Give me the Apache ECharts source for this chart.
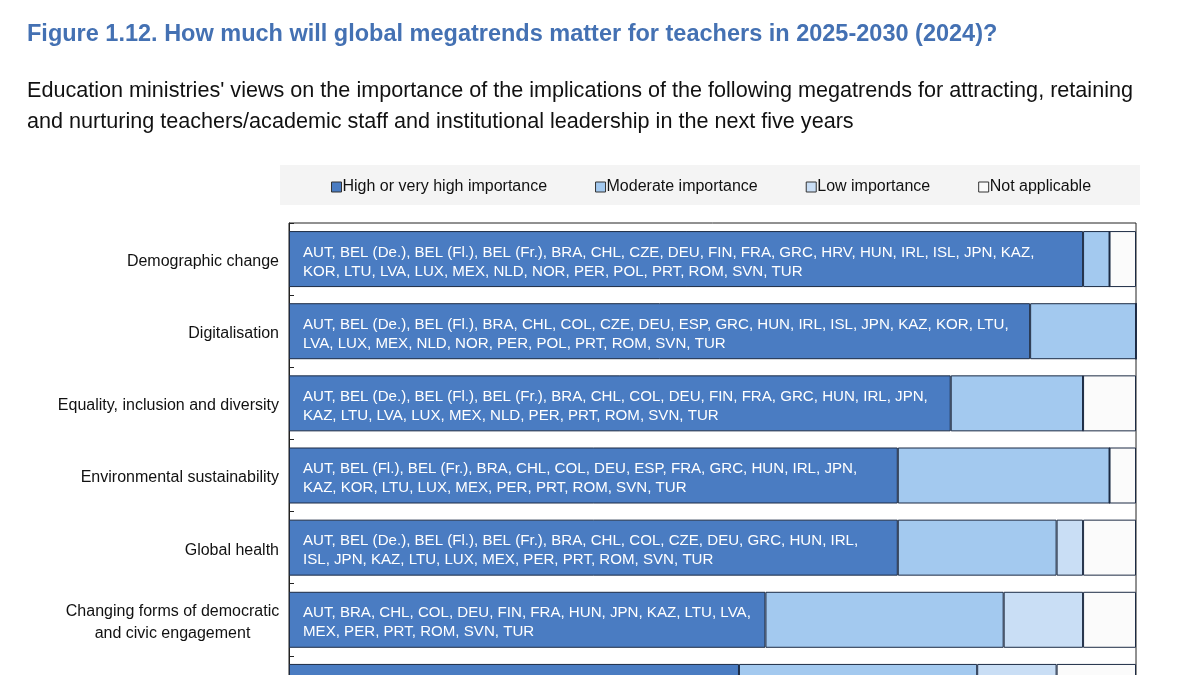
<!DOCTYPE html>
<html>
<head>
<meta charset="utf-8">
<script src="https://cdn.jsdelivr.net/npm/echarts@6/dist/echarts.min.js"></script>
<style>
html,body{margin:0;padding:0;background:#fff;overflow:hidden;}
#chart{width:1200px;height:800px;}
</style>
</head>
<body>
<div id="chart"></div>
<script>
const titleText = 'Figure 1.12. How much will global megatrends matter for teachers in 2025-2030 (2024)?';
const subtitleText = "Education ministries' views on the importance of the implications of the following megatrends for attracting, retaining\nand nurturing teachers/academic staff and institutional leadership in the next five years";
const categories = [
  'Demographic change',
  'Digitalisation',
  'Equality, inclusion and diversity',
  'Environmental sustainability',
  'Global health',
  'Changing forms of democratic\nand civic engagement',
  ''
];
const seriesNames = ['High or very high importance', 'Moderate importance', 'Low importance', 'Not applicable'];
const highValues = [30, 28, 25, 23, 23, 18, 17];
const moderateValues = [1, 4, 5, 8, 6, 9, 9];
const lowValues = [0, 0, 0, 0, 1, 3, 3];
const naValues = [1, 0, 2, 1, 2, 2, 3];
const highCountries = [
  'AUT, BEL (De.), BEL (Fl.), BEL (Fr.), BRA, CHL, CZE, DEU, FIN, FRA, GRC, HRV, HUN, IRL, ISL, JPN, KAZ,\nKOR, LTU, LVA, LUX, MEX, NLD, NOR, PER, POL, PRT, ROM, SVN, TUR',
  'AUT, BEL (De.), BEL (Fl.), BRA, CHL, COL, CZE, DEU, ESP, GRC, HUN, IRL, ISL, JPN, KAZ, KOR, LTU,\nLVA, LUX, MEX, NLD, NOR, PER, POL, PRT, ROM, SVN, TUR',
  'AUT, BEL (De.), BEL (Fl.), BEL (Fr.), BRA, CHL, COL, DEU, FIN, FRA, GRC, HUN, IRL, JPN,\nKAZ, LTU, LVA, LUX, MEX, NLD, PER, PRT, ROM, SVN, TUR',
  'AUT, BEL (Fl.), BEL (Fr.), BRA, CHL, COL, DEU, ESP, FRA, GRC, HUN, IRL, JPN,\nKAZ, KOR, LTU, LUX, MEX, PER, PRT, ROM, SVN, TUR',
  'AUT, BEL (De.), BEL (Fl.), BEL (Fr.), BRA, CHL, COL, CZE, DEU, GRC, HUN, IRL,\nISL, JPN, KAZ, LTU, LUX, MEX, PER, PRT, ROM, SVN, TUR',
  'AUT, BRA, CHL, COL, DEU, FIN, FRA, HUN, JPN, KAZ, LTU, LVA,\nMEX, PER, PRT, ROM, SVN, TUR',
  ''
];
const colors = ['#4a7cc2', '#a3c9ef', '#c9def5', '#fbfbfb'];
const totalResponses = 32;

const FONT = '"Liberation Sans", Arial, sans-serif';
const chart = echarts.init(document.getElementById('chart'));
const border = {borderColor: '#1c2b44', borderWidth: 1};
function mk(i, data, extra) {
  return Object.assign({
    name: seriesNames[i], type: 'bar', stack: 'all', data: data,
    barWidth: 56,
    itemStyle: Object.assign({color: colors[i]}, border),
    emphasis: {disabled: true}
  }, extra || {});
}
chart.setOption({
  animation: false,
  textStyle: {fontFamily: FONT},
  title: [
    {text: titleText, left: 22, top: 18, textStyle: {fontFamily: FONT, fontSize: 23.5, fontWeight: 'bold', color: '#4471b3'}},
    {text: subtitleText, left: 22, top: 71, textStyle: {fontFamily: FONT, fontSize: 21.6, fontWeight: 'normal', color: '#111', lineHeight: 31}}
  ],
  graphic: [
    {type: 'rect', left: 280, top: 165, shape: {width: 860, height: 40}, style: {fill: '#f4f4f4'}, z: -10}
  ],
  legend: {
    left: 326, top: 174, itemWidth: 10, itemHeight: 10, itemGap: 48, icon: 'rect',
    itemStyle: {borderColor: '#333', borderWidth: 1},
    textStyle: {fontFamily: FONT, fontSize: 16, color: '#111', padding: [0, 0, 0, -4]},
    data: seriesNames
  },
  grid: {left: 289, right: 64, top: 223, height: 505, show: true, borderColor: '#222', borderWidth: 1, backgroundColor: '#fff'},
  xAxis: {type: 'value', min: 0, max: totalResponses, show: false},
  yAxis: {
    type: 'category', data: categories, inverse: true,
    axisLine: {show: true, lineStyle: {color: '#222'}},
    axisTick: {show: true, inside: true, length: 5, lineStyle: {color: '#222'}},
    axisLabel: {
      margin: 10, color: '#111', fontSize: 16, fontFamily: FONT, align: 'right', padding: [5, 0, 0, 0],
      formatter: function (v) {
        if (v.indexOf('\n') >= 0) {
          return v.split('\n').map(function (s) { return '{c|' + s + '}'; }).join('\n');
        }
        return v;
      },
      rich: {c: {width: 213, align: 'center', fontSize: 16, fontFamily: FONT, color: '#111', lineHeight: 22}}
    }
  },
  series: [
    mk(0, highValues, {label: {show: true, position: 'insideLeft', distance: 14, offset: [0, 3], color: '#fff', fontSize: 15.1, lineHeight: 19, fontFamily: FONT,
      formatter: function (p) { return highCountries[p.dataIndex]; }}}),
    mk(1, moderateValues),
    mk(2, lowValues),
    mk(3, naValues)
  ]
});
</script>
</body>
</html>
